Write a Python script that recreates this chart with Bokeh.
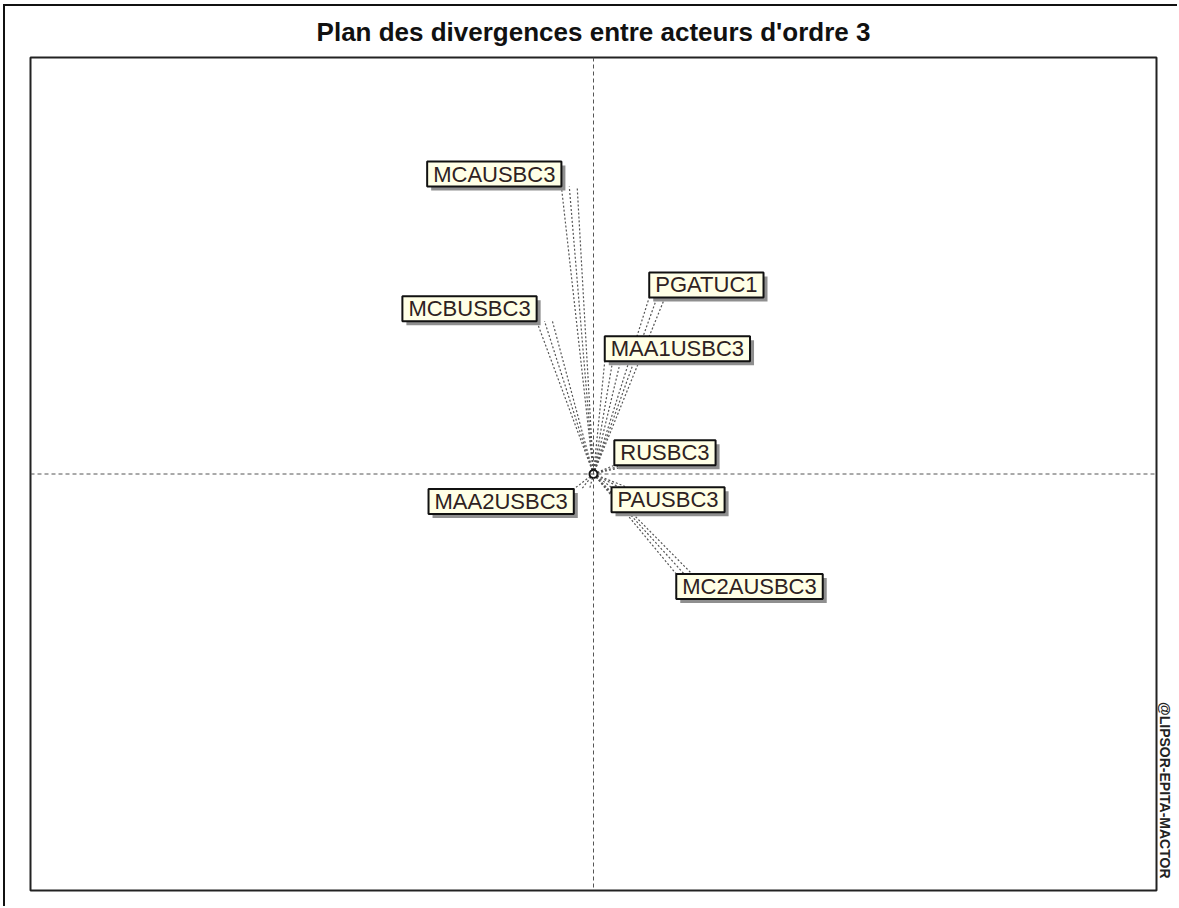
from bokeh.plotting import figure
from bokeh.models import Span, Range1d, Title, Label
from bokeh.embed import file_html
from bokeh.resources import INLINE

actors = ["MCAUSBC3", "PGATUC1", "MCBUSBC3", "MAA1USBC3",
          "RUSBC3", "MAA2USBC3", "PAUSBC3", "MC2AUSBC3"]
x_vals = [-0.057, 0.099, -0.101, 0.020, 0.037, -0.035, 0.032, 0.147]
y_vals = [0.690, 0.424, 0.367, 0.271, 0.021, -0.036, -0.032, -0.240]

title_text = "Plan des divergences entre acteurs d'ordre 3"
credit_text = "@LIPSOR-EPITA-MACTOR"

FONT = "Liberation Sans"

p = figure(width=1174, height=902, output_backend="svg", toolbar_location=None,
           x_range=Range1d(-1, 1), y_range=Range1d(-1, 1),
           min_border_left=25, min_border_right=23,
           min_border_top=51, min_border_bottom=18)
p.axis.visible = False
p.grid.visible = False
p.outline_line_color = "#222222"
p.outline_line_width = 2
p.background_fill_color = "white"
p.border_fill_color = "white"
p.styles = {"border-left": "2px solid #111111", "border-top": "2px solid #111111",
            "margin-left": "3px", "margin-top": "4px"}

p.title.text = title_text
p.title.align = "center"
p.title.text_font = FONT
p.title.text_font_size = "26px"
p.title.text_font_style = "bold"
p.title.text_color = "#111111"
p.title.vertical_align = "top"
p.title.standoff = 18

p.add_layout(Title(text=credit_text, align="right", text_font=FONT,
                   text_font_size="14px", text_font_style="bold",
                   text_color="#222222", standoff=0, offset=12), "right")

# axes through origin
p.add_layout(Span(location=0, dimension="height", line_color="#555555",
                  line_dash="4 3", line_width=1))
p.add_layout(Span(location=0, dimension="width", line_color="#555555",
                  line_dash="4 3", line_width=1))

# bundles of dotted lines from centre to each label
x0s, y0s, x1s, y1s = [], [], [], []
for xv, yv in zip(x_vals, y_vals):
    for k in range(3):
        x0s.append(0)
        y0s.append(0)
        x1s.append(xv + k * 0.014)
        y1s.append(yv)
p.segment(x0s, y0s, x1s, y1s, line_color="#555555", line_width=1.2, line_dash="2 2")

p.scatter([0], [0], size=8, marker="circle", fill_color="white",
          line_color="#111111", line_width=2)

for name, xv, yv in zip(actors, x_vals, y_vals):
    anchor = ("bottom" if yv > 0 else "top") + "_" + ("right" if xv < 0 else "left")
    shadow = Label(x=xv, y=yv, text=name, anchor=anchor, x_offset=4, y_offset=-4,
                   text_font=FONT, text_font_size="22px", text_color="#8f8f8f",
                   background_fill_color="#8f8f8f", padding=(6, 0))
    lab = Label(x=xv, y=yv, text=name, anchor=anchor,
                text_font=FONT, text_font_size="22px", text_color="#2e2222",
                background_fill_color="#ffffe6", border_line_color="#111111",
                border_line_width=2, padding=(6, 0))
    p.add_layout(shadow)
    p.add_layout(lab)

open("out.html", "w").write(file_html(p, INLINE))
